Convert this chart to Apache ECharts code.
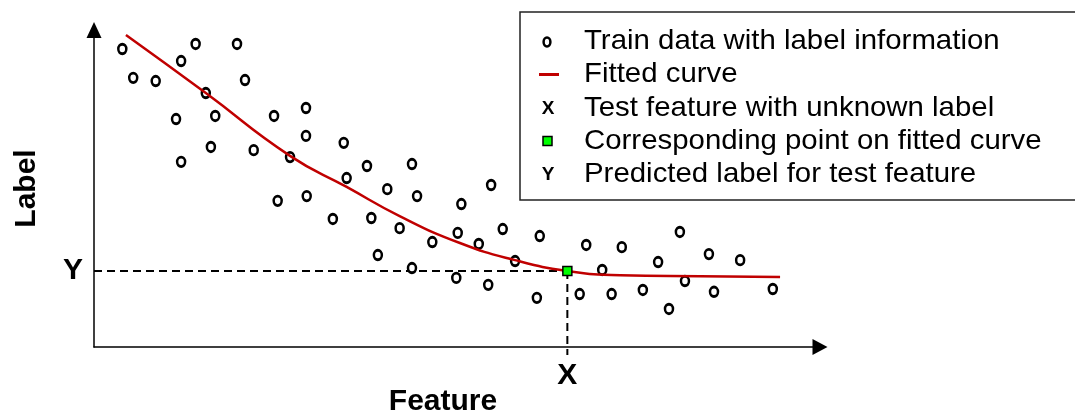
<!DOCTYPE html>
<html>
<head>
<meta charset="utf-8">
<script src="https://cdn.jsdelivr.net/npm/echarts@6/dist/echarts.min.js"></script>
<style>
html,body{margin:0;padding:0;background:#fff;}
#chart{width:1075px;height:414px;}
</style>
</head>
<body>
<div id="chart"></div>
<script>
// Training data (feature, label)
const trainX = [0.39,0.54,0.84,0.85,1.20,1.40,1.97,2.08,1.54,1.13,1.67,1.20,1.61,2.20,2.48,2.92,2.92,2.70,2.53,2.93,3.44,3.76,3.48,3.29,4.04,4.38,4.45,3.82,4.21,3.91,4.66,4.38,5.06,5.47,5.01,5.30,5.63,5.80,4.99,5.43,6.14,6.10,6.78,7.27,7.00,6.69,7.13,7.56,7.77,8.07,8.14,7.92,8.47,8.54,8.90,9.35];
const trainY = [9.40,8.49,10.03,8.39,9.02,9.56,9.56,8.42,8.01,7.19,7.29,5.84,6.31,6.21,7.29,7.54,6.66,5.99,4.61,4.76,6.44,5.71,5.33,4.04,4.98,5.77,4.76,4.07,3.75,2.90,3.31,2.49,4.51,5.11,3.60,3.25,3.72,2.71,2.18,1.96,3.50,1.55,3.22,3.15,2.43,1.67,1.67,1.80,2.68,3.63,2.08,1.20,2.93,1.74,2.74,1.83];
// Fitted curve
const curveX = [0.44,1.54,2.70,3.48,4.21,5.04,5.80,6.52,7.25,8.35,9.45];
const curveY = [9.84,8.01,6.03,5.05,4.13,3.28,2.74,2.40,2.26,2.23,2.21];
// Test feature and predicted label
const testX = 6.52;
const predY = 2.40;
const xLowExt = -0.25;
// Legend entries
const legendNames = ['Train data with label information','Fitted curve','Test feature with unknown label','Corresponding point on fitted curve','Predicted label for test feature'];

const chart = echarts.init(document.getElementById('chart'));
const FONT = 'Liberation Sans, Arial, sans-serif';
const rowY = [41, 74.5, 108, 141, 174];

const legendGraphics = [
  {type:'rect', shape:{x:520, y:12, width:620, height:188}, style:{fill:'#fff', stroke:'#222', lineWidth:1.5}, z:10},
  {type:'ellipse', shape:{cx:547, cy:rowY[0]+1, rx:3.4, ry:4.4}, style:{fill:'#fff', stroke:'#000', lineWidth:2.5}, z:11},
  {type:'line', shape:{x1:539, y1:rowY[1], x2:559, y2:rowY[1]}, style:{stroke:'#c00000', lineWidth:3}, z:11},
  {type:'text', x:548, y:rowY[2]+1, style:{text:'X', font:'bold 19px ' + FONT, fill:'#000', align:'center', verticalAlign:'middle'}, z:11},
  {type:'rect', shape:{x:543, y:rowY[3]-4.5, width:9, height:9}, style:{fill:'#00ff00', stroke:'#000', lineWidth:1.5}, z:11},
  {type:'text', x:548, y:rowY[4]+1, style:{text:'Y', font:'bold 19px ' + FONT, fill:'#000', align:'center', verticalAlign:'middle'}, z:11}
];
legendNames.forEach((n, i) => {
  legendGraphics.push({type:'text', x:584, y:rowY[i], scaleX:1.05, style:{text:n, font:'28px ' + FONT, fill:'#000', align:'left', verticalAlign:'middle'}, z:11});
});

const option = {
  animation: false,
  backgroundColor: '#fff',
  grid: {left:94, top:30, right:255, bottom:67, containLabel:false, outerBoundsMode:'none'},
  xAxis: {
    type:'value', min:0, max:10,
    name:'Feature', nameLocation:'middle', nameGap:40,
    nameTextStyle:{fontFamily:FONT, fontWeight:'bold', fontSize:30, color:'#000', padding:[0,28,0,0]},
    axisLine:{show:true, onZero:false, symbol:['none','triangle'], symbolSize:[16,15], lineStyle:{color:'#000', width:1.5}},
    axisTick:{show:false}, axisLabel:{show:false}, splitLine:{show:false}
  },
  yAxis: {
    type:'value', min:0, max:10,
    name:'Label', nameLocation:'middle', nameGap:52, nameRotate:90,
    nameTextStyle:{fontFamily:FONT, fontWeight:'bold', fontSize:30, color:'#000'},
    axisLine:{show:true, onZero:false, symbol:['none','triangle'], symbolSize:[15,16], lineStyle:{color:'#000', width:1.5}},
    axisTick:{show:false}, axisLabel:{show:false}, splitLine:{show:false}
  },
  series: [
    {
      name:'Predicted label for test feature', type:'line', clip:false, symbol:'none', z:1,
      lineStyle:{color:'#000', width:2, type:[8,5]},
      data:[[0, predY],[testX, predY]].map((d,i)=> i===0 ? {value:d, symbol:'circle', symbolSize:0.1, label:{show:true, position:'left', distance:11, formatter:'Y', fontFamily:FONT, fontWeight:'bold', fontSize:30, color:'#000'}} : {value:d})
    },
    {
      name:'Test feature with unknown label', type:'line', clip:false, symbol:'none', z:1,
      lineStyle:{color:'#000', width:2, type:[8,5]},
      data:[[testX, predY],[testX, xLowExt]].map((d,i)=> i===1 ? {value:d, symbol:'circle', symbolSize:0.1, label:{show:true, position:'bottom', distance:6, formatter:'X', fontFamily:FONT, fontWeight:'bold', fontSize:30, color:'#000'}} : {value:d})
    },
    {
      name:'Train data with label information', type:'scatter', z:3,
      symbol:'circle', symbolSize:[8,9.5],
      itemStyle:{color:'#fff', borderColor:'#000', borderWidth:2.7, opacity:1},
      data: trainX.map((x,i)=>[x, trainY[i]])
    },
    {
      name:'Fitted curve', type:'line', smooth:0.5, symbol:'none', z:4,
      lineStyle:{color:'#c00000', width:2.5},
      data: curveX.map((x,i)=>[x, curveY[i]])
    },
    {
      name:'Corresponding point on fitted curve', type:'scatter', z:5,
      symbol:'rect', symbolSize:9,
      itemStyle:{color:'#00ff00', borderColor:'#000', borderWidth:1.5, opacity:1},
      data:[[testX, predY]]
    }
  ],
  graphic: legendGraphics
};
chart.setOption(option);
</script>
</body>
</html>
